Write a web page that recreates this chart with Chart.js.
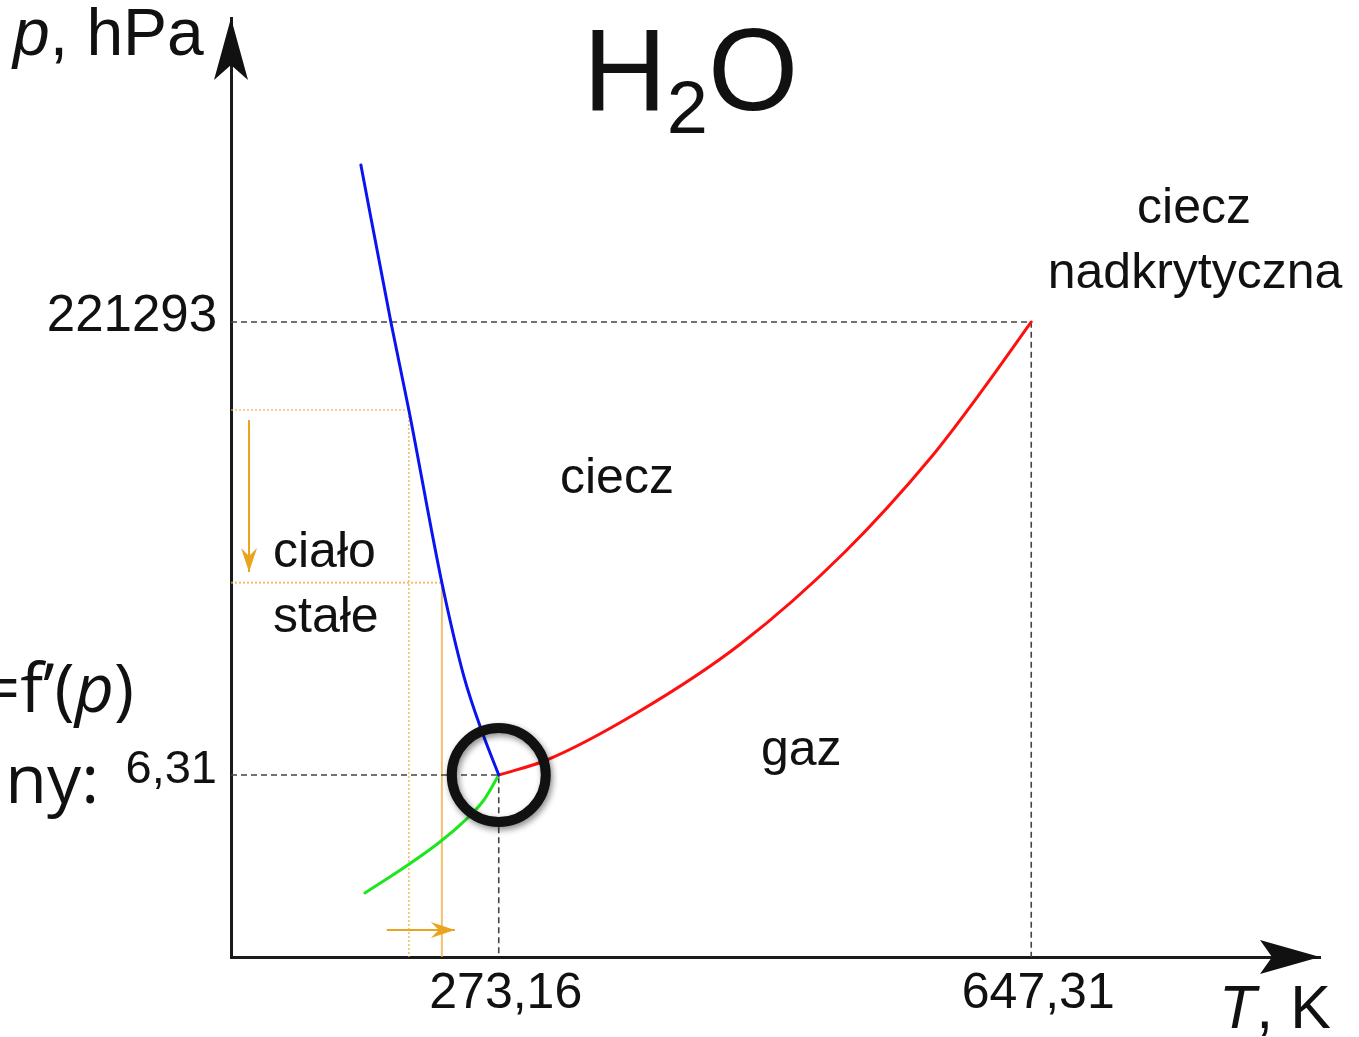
<!DOCTYPE html>
<html>
<head>
<meta charset="utf-8">
<script src="https://cdn.jsdelivr.net/npm/chart.js@4.4.1/dist/chart.umd.min.js"></script>
<style>
  body { margin: 0; background: #fff; }
  #wrap { width: 1359px; height: 1037px; }
</style>
</head>
<body>
<div id="wrap"><canvas id="phaseChart"></canvas></div>
<script>
// tick positions and labels
const tempTicks = [273.16, 647.31];
const tempLabels = ["273,16", "647,31"];
const presTicks = [6.31, 221293];
const presLabels = ["6,31", "221293"];

// axis range, T in K, p in hPa (schematic diagram)
const tempRange = [85.03, 850.2];
const presRange = [0.0942, 2.48e8];

// solid / liquid line
const meltT = [176.3, 197.4, 210.0, 233.2, 248.6, 261.3, 273.16];
const meltP = [8.32e6, 2.2e5, 2.9e4, 536, 62, 17.3, 6.31];
// solid / gas line
const sublT = [179.1, 209.3, 231.1, 247.2, 262.6, 273.16];
const sublP = [0.413, 0.79, 1.32, 2.06, 3.52, 6.31];
// liquid / gas line
const boilT = [273.16, 306.9, 370.0, 443.0, 516.0, 577.1, 613.6, 647.31];
const boilP = [6.31, 8.92, 26.4, 130, 1077, 9780, 47100, 221293];

// orange helper lines on the melting curve
const guideT = [210.0, 233.2];
const guideP = [2.9e4, 536];
// orange arrows
const arrowDownT = [97.7, 97.7];
const arrowDownP = [2.3e4, 687];
const arrowRightT = [194.5, 242.3];
const arrowRightP = [0.176, 0.176];

const FONT = "'Liberation Sans', Arial, sans-serif";
const SLIDE = "'Open Sans', sans-serif";

function pts(xs, ys) {
    return xs.map((x, i) => ({ x: x, y: ys[i] }));
}

function corner(t, p) {
    return [{ x: tempRange[0], y: p }, { x: t, y: p }, { x: t, y: presRange[0] }];
}

function curve(label, data, color) {
    return {
        label, data, showLine: true, borderColor: color, borderWidth: 3,
        pointRadius: 0, cubicInterpolationMode: "monotone",
        borderCapStyle: "round", borderJoinStyle: "round"
    };
}

function guide(label, data, color, dash, width) {
    return {
        label, data, showLine: true, borderColor: color, borderWidth: width || 1.6,
        pointRadius: 0, borderDash: dash
    };
}

function arrowHead(c, x, y, dx, dy, len, half, notch) {
    const nx = -dy, ny = dx;
    c.beginPath();
    c.moveTo(x, y);
    c.lineTo(x - dx * len + nx * half, y - dy * len + ny * half);
    c.lineTo(x - dx * notch, y - dy * notch);
    c.lineTo(x - dx * len - nx * half, y - dy * len - ny * half);
    c.closePath();
    c.fill();
}

function text(c, s, x, y, size, align, italic, family) {
    c.font = (italic ? "italic " : "") + size + "px " + (family || FONT);
    c.textAlign = align || "left";
    c.textBaseline = "alphabetic";
    c.fillText(s, x, y);
    return c.measureText(s).width;
}

function noPad(s) {
    s.paddingTop = 0;
    s.paddingBottom = 0;
    s.paddingLeft = 0;
    s.paddingRight = 0;
}

const decor = {
    id: "decor",
    beforeDatasetDraw(chart, args) {
        if (args.index === 0) {
            const c = chart.ctx;
            c.save();
            c.shadowColor = "rgba(0,0,0,0.45)";
            c.shadowBlur = 6;
            c.shadowOffsetX = 2;
            c.shadowOffsetY = 3;
        }
    },
    afterDatasetDraw(chart, args) {
        if (args.index === 0) chart.ctx.restore();
    },
    afterDraw(chart) {
        const c = chart.ctx;
        const { left, top, right, bottom } = chart.chartArea;
        c.save();

        // axis arrows
        c.fillStyle = "#111";
        arrowHead(c, left, top, 0, -1, 62, 17, 47);
        arrowHead(c, right, bottom, 1, 0, 60, 17, 48);

        // orange arrows
        c.fillStyle = "#e9a31f";
        const down = chart.getDatasetMeta(8).data;
        const d = down[down.length - 1];
        arrowHead(c, d.x, d.y, 0, 1, 24, 8, 16);
        const rightA = chart.getDatasetMeta(9).data;
        const r = rightA[rightA.length - 1];
        arrowHead(c, r.x, r.y, 1, 0, 24, 8, 16);

        c.fillStyle = "#111";
        // axis titles
        let w = text(c, "p", 13, 55, 66, "left", true);
        text(c, ", hPa", 13 + w, 55, 66);
        w = text(c, "T", 1219, 1028, 61, "left", true);
        text(c, ", K", 1219 + w, 1028, 61);

        // formula
        w = text(c, "H", 583, 110, 116);
        const w2 = text(c, "2", 583 + w, 133, 74);
        text(c, "O", 583 + w + w2, 110, 116);

        // phase regions
        text(c, "ciecz", 1194, 223, 50, "center");
        text(c, "nadkrytyczna", 1195, 288, 50, "center");
        text(c, "ciecz", 560, 493, 50);
        text(c, "ciało", 273, 567, 50);
        text(c, "stałe", 273, 632, 50);
        text(c, "gaz", 761, 765, 50);

        // cut-off slide text on the left
        c.font = "68px " + SLIDE;
        const wr = c.measureText(")").width;
        c.font = "italic 68px " + SLIDE;
        const wp = c.measureText("p").width;
        text(c, ")", 134, 712, 68, "right", false, SLIDE);
        text(c, "p", 134 - wr, 712, 68, "right", true, SLIDE);
        text(c, "=f’(", 134 - wr - wp, 712, 68, "right", false, SLIDE);
        text(c, "ny:", 99, 803, 68, "right", false, SLIDE);

        c.restore();
    }
};

const ctx = document.getElementById("phaseChart").getContext("2d");
const chart = new Chart(ctx, {
    type: "scatter",
    data: {
        datasets: [
            {
                label: "triple point", data: [{ x: tempTicks[0], y: presTicks[0] }],
                pointRadius: 47, pointBorderWidth: 10, pointBorderColor: "#111",
                pointBackgroundColor: "rgba(0,0,0,0)", clip: false
            },
            curve("melting", pts(meltT, meltP), "#0a14f0"),
            curve("boiling", pts(boilT, boilP), "#ff1010"),
            curve("sublimation", pts(sublT, sublP), "#1ee61e"),
            guide("critical", corner(tempTicks[1], presTicks[1]), "#444", [6, 4]),
            guide("triple", corner(tempTicks[0], presTicks[0]), "#444", [6, 4]),
            guide("guide1", corner(guideT[0], guideP[0]), "rgba(240,170,60,0.75)", [2, 2]),
            Object.assign(guide("guide2", corner(guideT[1], guideP[1]), "rgba(240,170,60,0.75)", [2, 2], 2), {
                segment: { borderDash: c => c.p1DataIndex === 2 ? [] : [2, 2] }
            }),
            guide("arrowDown", pts(arrowDownT, arrowDownP), "#e9a31f", [], 2),
            guide("arrowRight", pts(arrowRightT, arrowRightP), "#e9a31f", [], 2)
        ]
    },
    options: {
        responsive: true,
        maintainAspectRatio: false,
        animation: false,
        events: [],
        layout: { autoPadding: false, padding: { top: 18, right: 39, left: 0, bottom: 0 } },
        plugins: {
            legend: { display: false },
            tooltip: { enabled: false }
        },
        scales: {
            x: {
                type: "linear",
                min: tempRange[0],
                max: tempRange[1],
                bounds: "data",
                afterBuildTicks: s => { s.ticks = tempTicks.map(v => ({ value: v })); },
                afterFit: s => { s.height = 80; noPad(s); },
                grid: { display: false, drawTicks: false },
                border: { display: true, color: "#1a1a1a", width: 3 },
                ticks: {
                    autoSkip: false, maxRotation: 0, padding: 7, labelOffset: 7,
                    color: "#111", font: { family: FONT, size: 50 },
                    callback: (v, i) => tempLabels[i]
                }
            },
            y: {
                type: "logarithmic",
                min: presRange[0],
                max: presRange[1],
                bounds: "data",
                afterBuildTicks: s => { s.ticks = presTicks.map(v => ({ value: v })); },
                afterFit: s => { s.width = 231; noPad(s); },
                grid: { display: false, drawTicks: false },
                border: { display: true, color: "#1a1a1a", width: 3 },
                ticks: {
                    autoSkip: false, padding: 14, labelOffset: -5, color: "#111",
                    font: c => ({ family: FONT, size: c.index === 0 ? 47 : 51 }),
                    callback: (v, i) => presLabels[i]
                }
            }
        }
    },
    plugins: [decor]
});
</script>
</body>
</html>
